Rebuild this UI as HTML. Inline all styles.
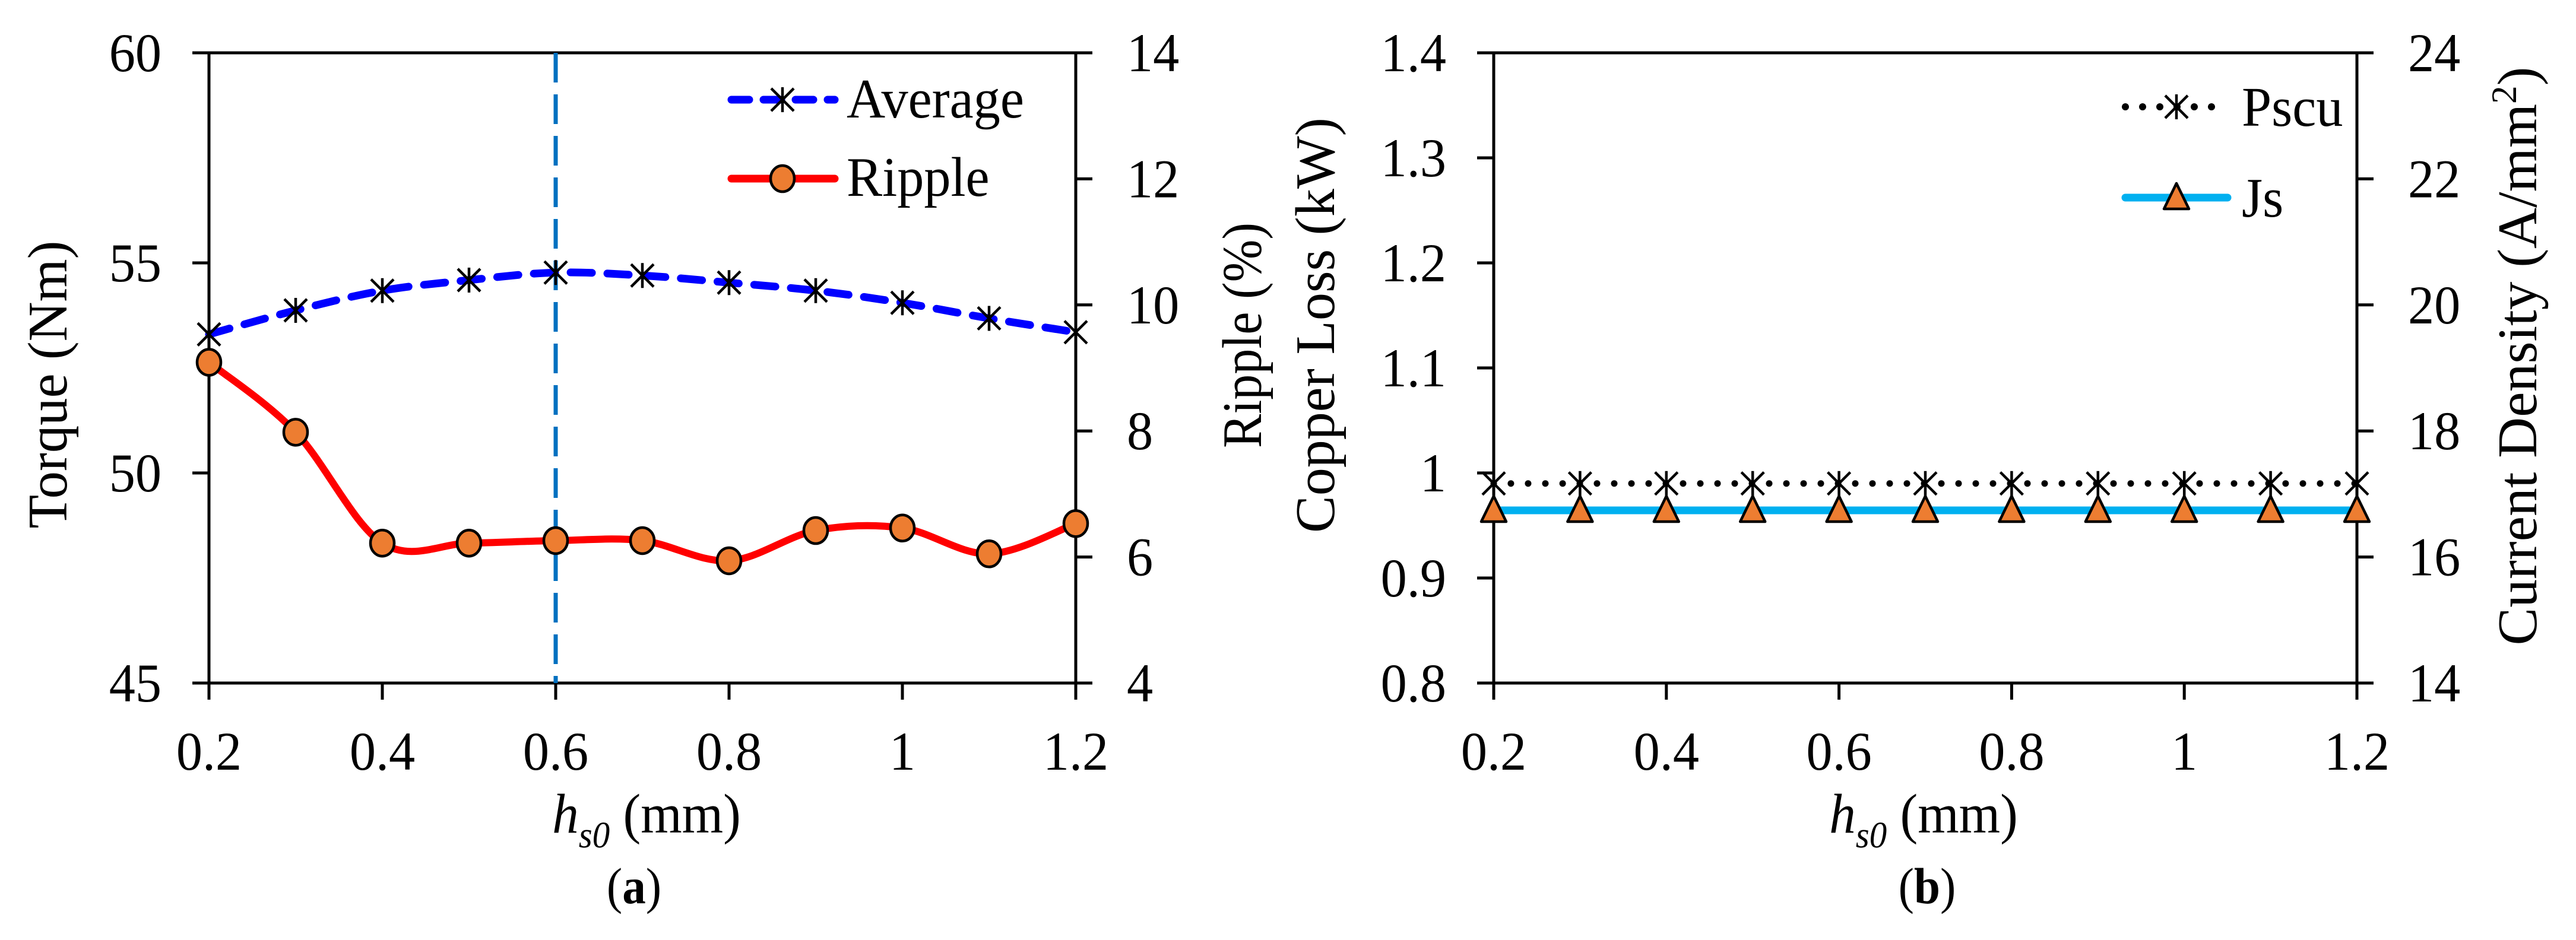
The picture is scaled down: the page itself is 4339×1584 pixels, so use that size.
<!DOCTYPE html>
<html><head><meta charset="utf-8">
<style>
html,body{margin:0;padding:0;background:#fff;}
svg{display:block;}
svg text{font-family:"Liberation Serif","Tinos","Times New Roman","DejaVu Serif",serif;fill:#000;}
</style></head>
<body>
<svg id="fig" width="4339" height="1584" viewBox="0 0 4339 1584" xmlns="http://www.w3.org/2000/svg" font-family="Liberation Serif, Times New Roman, serif">
<rect x="0" y="0" width="4339" height="1584" fill="#fff"/>
<g id="pa"></g>
<g id="pb"></g>
</svg>
<script>
// ---------- data ----------
const xValues = [0.2,0.3,0.4,0.5,0.6,0.7,0.8,0.9,1.0,1.1,1.2];
const xTickValues = [0.2,0.4,0.6,0.8,1.0,1.2];
const xTickLabels = ["0.2","0.4","0.6","0.8","1","1.2"];
const averageTorque = [53.3,53.87,54.34,54.59,54.77,54.70,54.53,54.34,54.05,53.68,53.35];
const rippleValues = [9.09,7.98,6.22,6.22,6.26,6.26,5.94,6.42,6.46,6.05,6.53];
const torqueTicks = [45,50,55,60];
const rippleTicks = [4,6,8,10,12,14];
const markerLineX = [0.6];
const pscuValues = [0.99,0.99,0.99,0.99,0.99,0.99,0.99,0.99,0.99,0.99,0.99];
const jsValues = [16.74,16.74,16.74,16.74,16.74,16.74,16.74,16.74,16.74,16.74,16.74];
const copperTicks = [0.8,0.9,1.0,1.1,1.2,1.3,1.4];
const copperTickLabels = ["0.8","0.9","1","1.1","1.2","1.3","1.4"];
const densityTicks = [14,16,18,20,22,24];

const NS="http://www.w3.org/2000/svg";
const FONT="'Liberation Serif', 'Times New Roman', serif";
function mk(parent,tag,attrs){const e=document.createElementNS(NS,tag);if(tag==="text")e.setAttribute("font-family",FONT);for(const k in attrs)e.setAttribute(k,attrs[k]);parent.appendChild(e);return e;}
const TOP=89,BOT=1151;
function lin(d0,d1,r0,r1){return v=>r0+(v-d0)/(d1-d0)*(r1-r0);}
function smoothPath(pts){
  let d="M"+pts[0][0]+","+pts[0][1];
  for(let i=0;i<pts.length-1;i++){
    const p0=pts[Math.max(0,i-1)],p1=pts[i],p2=pts[i+1],p3=pts[Math.min(pts.length-1,i+2)];
    const c1=[p1[0]+(p2[0]-p0[0])/6,p1[1]+(p2[1]-p0[1])/6];
    const c2=[p2[0]-(p3[0]-p1[0])/6,p2[1]-(p3[1]-p1[1])/6];
    d+=" C"+c1[0]+","+c1[1]+" "+c2[0]+","+c2[1]+" "+p2[0]+","+p2[1];
  }
  return d;
}
function txt(parent,x,y,s,size,anchor){
  const t=mk(parent,"text",{x:0,y:0,"font-size":size,"text-anchor":anchor,transform:"translate("+x+","+y+") scale(0.96,1)"});
  t.textContent=s;return t;
}
function asterisk(g,x,y,name){
  const a=mk(g,"path",{d:"M"+x+","+(y-21)+"V"+(y+21)+"M"+(x-19)+","+(y-19)+"L"+(x+19)+","+(y+19)+"M"+(x-19)+","+(y+19)+"L"+(x+19)+","+(y-19),stroke:"#000","stroke-width":4.5,fill:"none"});
  
  
}
function circle(g,x,y,name){
  const c=mk(g,"ellipse",{cx:x,cy:y,rx:20,ry:22,fill:"#ED7D31",stroke:"#000","stroke-width":4.5});
  
  
}
function tri(g,x,y,name){
  const t=mk(g,"polygon",{points:(x)+","+(y-24)+" "+(x-21)+","+(y+19)+" "+(x+21)+","+(y+19),fill:"#ED7D31",stroke:"#000","stroke-width":4.5,"stroke-linejoin":"round"});
  
  
}
function axes(g,L,R,yl,yr,lt,ltl,rt,xs,prefix){
  const ax=mk(g,"g",{stroke:"#000","stroke-width":5,fill:"none"});
  
  
  mk(ax,"line",{x1:L,y1:TOP,x2:L,y2:BOT});
  mk(ax,"line",{x1:R,y1:TOP,x2:R,y2:BOT});
  mk(ax,"line",{x1:L-28,y1:TOP,x2:R+28,y2:TOP});
  mk(ax,"line",{x1:L-28,y1:BOT,x2:R+28,y2:BOT});
  lt.forEach((v,i)=>{const y=yl(v);mk(ax,"line",{x1:L-28,y1:y,x2:L,y2:y});
    const t=txt(g,L-80,y+31,ltl[i],92,"end");
    
    });
  rt.forEach(v=>{const y=yr(v);mk(ax,"line",{x1:R,y1:y,x2:R+28,y2:y});
    const t=txt(g,R+86,y+31,String(v),92,"start");
    
    });
  xTickValues.forEach((v,i)=>{const x=xs(v);mk(ax,"line",{x1:x,y1:BOT,x2:x,y2:BOT+28});
    const t=txt(g,x,1297,xTickLabels[i],92,"middle");
    
    });
}
function xTitle(g,cx,name){
  const t=mk(g,"text",{x:0,y:0,"font-size":94,"text-anchor":"middle",transform:"translate("+cx+",1403) scale(0.95,1)"});
  
  
  const h=mk(t,"tspan",{"font-style":"italic"});h.textContent="h";
  const s=mk(t,"tspan",{"font-style":"italic","font-size":62,dy:25});s.textContent="s0";
  const m=mk(t,"tspan",{dy:-25});m.textContent=" (mm)";
}
function vTitle(g,cx,cy,len,name){
  const t=mk(g,"text",{x:0,y:0,"font-size":94,"text-anchor":"middle",transform:"translate("+cx+","+cy+") rotate(-90)",textLength:len,lengthAdjust:"spacingAndGlyphs",dy:32});
  
  
  return t;
}
function caption(g,cx,letter,name){
  const t=mk(g,"text",{x:0,y:0,"font-size":86,"text-anchor":"middle",transform:"translate("+cx+",1522) scale(0.92,1)"});
  
  
  const a=mk(t,"tspan",{});a.textContent="(";
  const b=mk(t,"tspan",{"font-weight":"bold"});b.textContent=letter;
  const c=mk(t,"tspan",{});c.textContent=")";
}

// ---------- panel a ----------
(function(){
  const g=document.getElementById("pa");
  const L=352,R=1812;
  const xs=lin(0.2,1.2,L,R), yl=lin(45,60,BOT,TOP), yr=lin(4,14,BOT,TOP);
  axes(g,L,R,yl,yr,torqueTicks,torqueTicks.map(String),rippleTicks,xs,"a-");
  markerLineX.forEach(v=>{
    const l=mk(g,"line",{x1:xs(v),y1:TOP,x2:xs(v),y2:BOT,stroke:"#0070C0","stroke-width":7,"stroke-dasharray":"50,20"});
    
    
  });
  const avgPts=xValues.map((x,i)=>[xs(x),yl(averageTorque[i])]);
  const rPts=xValues.map((x,i)=>[xs(x),yr(rippleValues[i])]);
  const ap=mk(g,"path",{d:smoothPath(avgPts),fill:"none",stroke:"#0000FF","stroke-width":13,"stroke-dasharray":"36,26","stroke-linecap":"round"});
  
  
  avgPts.forEach(p=>asterisk(g,p[0],p[1],'average-point'));
  const rp=mk(g,"path",{d:smoothPath(rPts),fill:"none",stroke:"#FF0000","stroke-width":12,"stroke-linecap":"round"});
  
  
  rPts.forEach(p=>circle(g,p[0],p[1],'ripple-point'));
  const lg=mk(g,"g",{});
  
  
  mk(lg,"line",{x1:1232,y1:168,x2:1406,y2:168,stroke:"#0000FF","stroke-width":13,"stroke-dasharray":"30,24","stroke-linecap":"round"});
  asterisk(lg,1318,168,'legend-average-marker');
  let t=txt(lg,1426,198,"Average",94,"start");
  
  
  mk(lg,"line",{x1:1232,y1:301,x2:1406,y2:301,stroke:"#FF0000","stroke-width":13,"stroke-linecap":"round"});
  circle(lg,1318,301,'legend-ripple-marker');
  t=txt(lg,1426,330,"Ripple",94,"start");
  
  
  vTitle(g,80,648,485,'y-axis-title-torque').textContent="Torque (Nm)";
  vTitle(g,2092,565,380,'y2-axis-title-ripple').textContent="Ripple (%)";
  xTitle(g,1089,'x-axis-title-a');
  caption(g,1068,"a",'caption-a');
})();

// ---------- panel b ----------
(function(){
  const g=document.getElementById("pb");
  const L=2516,R=3970;
  const xs=lin(0.2,1.2,L,R), yl=lin(0.8,1.4,BOT,TOP), yr=lin(14,24,BOT,TOP);
  axes(g,L,R,yl,yr,copperTicks,copperTickLabels,densityTicks,xs,"b-");
  const pPts=xValues.map((x,i)=>[xs(x),yl(pscuValues[i])]);
  const jPts=xValues.map((x,i)=>[xs(x),yr(jsValues[i])]);
  const pp=mk(g,"path",{d:smoothPath(pPts),fill:"none",stroke:"#000","stroke-width":11,"stroke-dasharray":"0,29","stroke-linecap":"round"});
  
  
  pPts.forEach(p=>asterisk(g,p[0],p[1],'pscu-point'));
  const jp=mk(g,"path",{d:smoothPath(jPts),fill:"none",stroke:"#00B0F0","stroke-width":13});
  
  
  jPts.forEach(p=>tri(g,p[0],p[1],'js-point'));
  const lg=mk(g,"g",{});
  
  
  mk(lg,"line",{x1:3580,y1:180,x2:3750,y2:180,stroke:"#000","stroke-width":12,"stroke-dasharray":"0,29","stroke-linecap":"round"});
  asterisk(lg,3666,180,'legend-pscu-marker');
  let t=txt(lg,3776,212,"Pscu",94,"start");
  
  
  mk(lg,"line",{x1:3580,y1:333,x2:3752,y2:333,stroke:"#00B0F0","stroke-width":13,"stroke-linecap":"round"});
  tri(lg,3666,333,'legend-js-marker');
  t=txt(lg,3776,365,"Js",94,"start");
  
  
  vTitle(g,2215,548,700,'y-axis-title-copper-loss').textContent="Copper Loss (kW)";
  const cd=vTitle(g,4240,600,975,'y2-axis-title-current-density');
  const a=mk(cd,"tspan",{});a.textContent="Current Density (A/mm";
  const b=mk(cd,"tspan",{"font-size":60,dy:-34});b.textContent="2";
  const c=mk(cd,"tspan",{dy:34});c.textContent=")";
  xTitle(g,3240,'x-axis-title-b');
  caption(g,3246,"b",'caption-b');
})();
</script>
</body></html>
